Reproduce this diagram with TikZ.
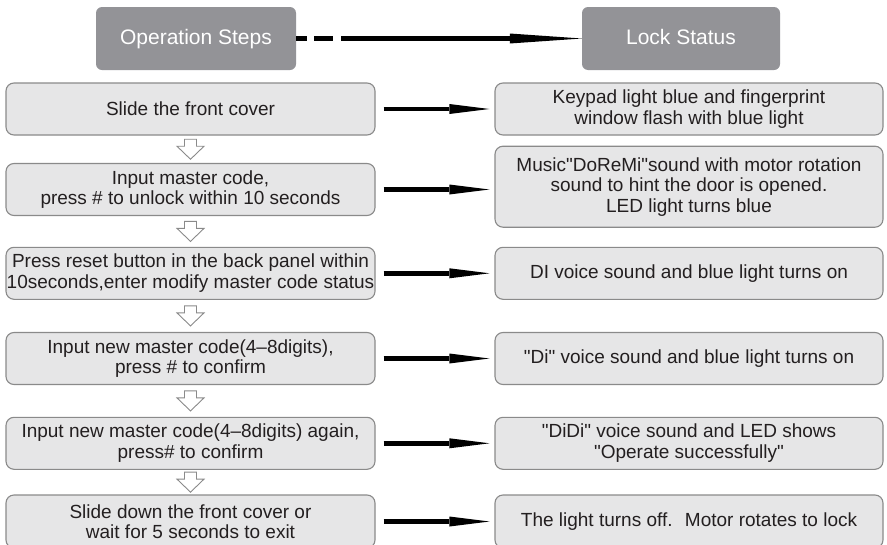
\documentclass[tikz,border=0pt]{standalone}
\usepackage{fontspec}
\setmainfont{Liberation Sans}[Ligatures=TeXOff]
\usetikzlibrary{arrows.meta,calc}
\definecolor{hdrgray}{HTML}{939397}
\definecolor{boxfill}{HTML}{E6E6E7}
\definecolor{boxline}{HTML}{8A8A8A}
\definecolor{txt}{HTML}{231F20}
\tikzset{pics/downarrow/.style={code={\draw[downarr] (-6,-10) -- (6,-10) -- (6,-3) -- (13.5,-3) -- (0,10) -- (-13.5,-3) -- (-6,-3) -- cycle;}}}
\begin{document}
\begin{tikzpicture}[x=1pt,y=-1pt,
 hdr/.style={rectangle, rounded corners=6pt, fill=hdrgray, text=white, minimum width=200pt, minimum height=63pt, font=\fontsize{21}{24}\selectfont, inner sep=0pt, text height=15pt, text depth=4pt},
 lbox/.style={rectangle, rounded corners=8pt, draw=boxline, line width=1.1pt, fill=boxfill, text=txt, minimum width=369pt, minimum height=52pt, align=center, font=\fontsize{19}{20.5}\selectfont, inner sep=0pt},
 rbox/.style={lbox, minimum width=388pt},
 harrow/.style={line width=4.5pt, draw=black, -{Triangle[length=40pt,width=10pt,line width=0pt]}, shorten <=8pt, shorten >=5pt},
 downarr/.style={draw=boxline, line width=0.9pt, fill=white}
]
\useasboundingbox (0,0) rectangle (887,544);
% headers
\node[hdr] (h1) at (196,38.5) {Operation Steps};
\node[hdr, minimum width=198pt] (h2) at (681,38.5) {Lock Status};
\draw[line width=5pt, dash pattern=on 11pt off 7pt on 19pt off 8pt on 600pt off 10pt, -{Triangle[length=72pt,width=10pt,line width=0pt]}] (h1.east) -- (h2.west);
% left column
\node[lbox] (l1) at (190.5,109) {Slide the front cover};
\node[lbox] (l2) at (190.5,189.5) {Input master code,\\press \# to unlock within 10 seconds};
\node[lbox] (l3) at (190.5,273.3) {Press reset button in the back panel within\\10seconds,enter modify master code status};
\node[lbox] (l4) at (190.5,358.5) {Input new master code(4–8digits),\\press \# to confirm};
\node[lbox] (l5) at (190.5,443.3) {Input new master code(4–8digits) again,\\press\# to confirm};
\node[lbox, minimum height=53pt] (l6) at (190.5,521.5) {Slide down the front cover or\\wait for 5 seconds to exit};
% right column
\node[rbox] (r1) at (689,109) {Keypad light blue and fingerprint\\window flash with blue light};
\node[rbox, minimum height=81pt] (r2) at (689,186.7) {Music"DoReMi"sound with motor rotation\\sound to hint the door is opened.\\LED light turns blue};
\node[rbox] (r3) at (689,273.3) {DI voice sound and blue light turns on};
\node[rbox] (r4) at (689,358.5) {"Di" voice sound and blue light turns on};
\node[rbox] (r5) at (689,443.3) {"DiDi" voice sound and LED shows\\"Operate successfully"};
\node[rbox, minimum height=53pt] (r6) at (689,521.5) {The light turns off.~ Motor rotates to lock};
% horizontal arrows
\foreach \i in {1,...,6}{
  \draw[harrow] (l\i.east) -- (l\i.east -| r\i.west);
}
% down arrows
\foreach \a/\b in {1/2,2/3,3/4,4/5,5/6}{
  \pic at ($(l\a.south)!0.5!(l\b.north)$) {downarrow};
}
\end{tikzpicture}
\end{document}
